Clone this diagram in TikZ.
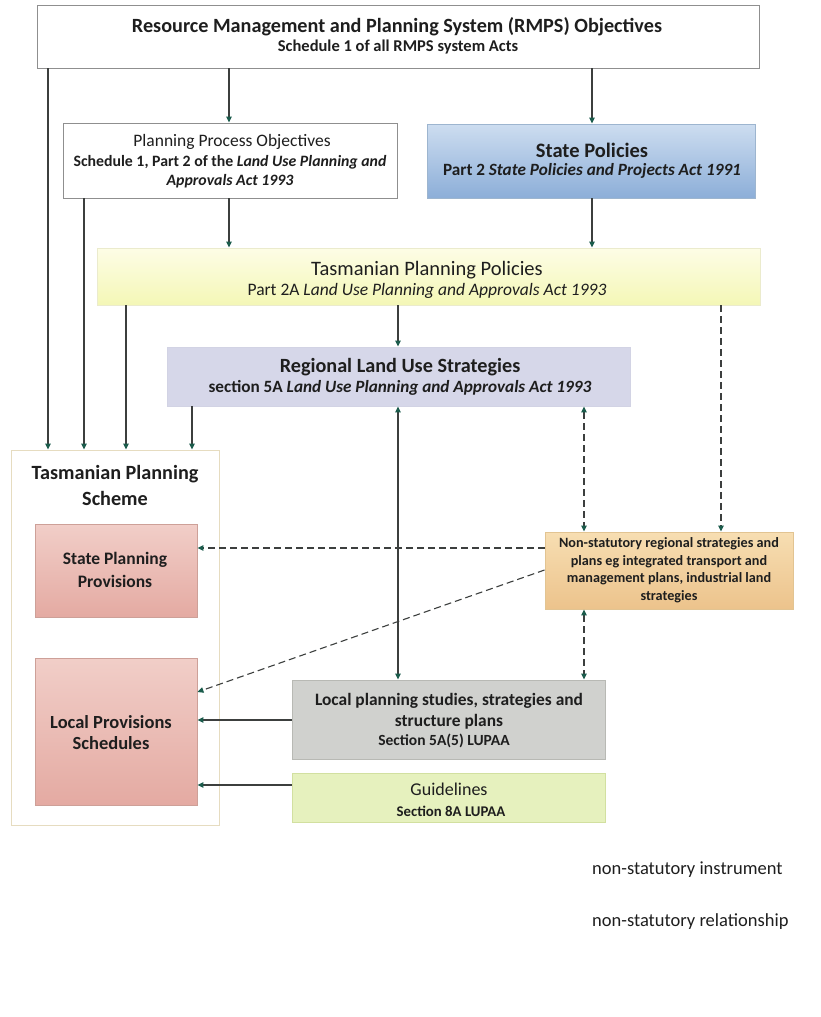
\documentclass[tikz,border=0pt]{standalone}
\usepackage{fontspec}
\setmainfont{Carlito}
\usetikzlibrary{arrows.meta}
\definecolor{linec}{HTML}{3C3F3E}
\definecolor{headc}{HTML}{1B5C4C}
\definecolor{txt}{HTML}{1E1E1E}
\definecolor{bgray}{HTML}{8F8F8F}
\definecolor{spD}{HTML}{9DB5CF}
\definecolor{spT}{HTML}{CDDDF0}
\definecolor{spB}{HTML}{8CAED8}
\definecolor{tppD}{HTML}{EBEBCD}
\definecolor{tppT}{HTML}{FDFDE6}
\definecolor{tppB}{HTML}{F4F7B6}
\definecolor{regD}{HTML}{D2D3E4}
\definecolor{regF}{HTML}{D6D7E9}
\definecolor{tpsD}{HTML}{E6DCC0}
\definecolor{pkD}{HTML}{CDA098}
\definecolor{pkT}{HTML}{F1CEC8}
\definecolor{pkB}{HTML}{E4AAA2}
\definecolor{nsD}{HTML}{E2C492}
\definecolor{nsT}{HTML}{F7DEB2}
\definecolor{nsB}{HTML}{ECC38C}
\definecolor{lpD}{HTML}{B8B9B4}
\definecolor{lpF}{HTML}{D0D1CE}
\definecolor{glD}{HTML}{D2E0A0}
\definecolor{glF}{HTML}{E6F1BE}
\begin{document}
\begin{tikzpicture}[x=1pt,y=-1pt,
  box/.style={draw=#1, line width=0.9pt, inner sep=0pt},
  tx/.style={text=txt, inner sep=0pt, align=center},
  arr/.style={draw=linec, line width=1.1pt, -{Triangle[length=6pt,width=5.5pt,color=headc]}},
  darr/.style={draw=linec, line width=1.1pt, {Triangle[length=6pt,width=5.5pt,color=headc]}-{Triangle[length=6pt,width=5.5pt,color=headc]}},
  dsh/.style={dash pattern=on 7pt off 4pt}
]
\useasboundingbox (0,0) rectangle (821,1017);
\fill[white] (0,0) rectangle (821,1017);

% columns
\coordinate (c48) at (48,0);
\coordinate (c84) at (84,0);
\coordinate (c126) at (126,0);
\coordinate (c192) at (192,0);
\coordinate (c229) at (229,0);
\coordinate (c398) at (398,0);
\coordinate (c584) at (584,0);
\coordinate (c592) at (592,0);
\coordinate (c721) at (721,0);
\coordinate (r548) at (0,548);
\coordinate (r570) at (0,570);
\coordinate (r692) at (0,692);
\coordinate (r720) at (0,720);
\coordinate (r785) at (0,785);

% boxes
\node[box=bgray, fill=white, minimum width=722pt, minimum height=63pt] (top) at (398,36.5) {};
\node[box=bgray, fill=white, minimum width=334pt, minimum height=75pt] (ppo) at (230,160.5) {};
\node[box=spD, top color=spT, bottom color=spB, minimum width=328pt, minimum height=74pt] (sp) at (591.5,161) {};
\node[box=tppD, top color=tppT, bottom color=tppB, minimum width=663pt, minimum height=57pt] (tpp) at (428.5,276.5) {};
\node[box=regD, fill=regF, minimum width=463pt, minimum height=59pt] (reg) at (398.5,376.5) {};
\node[box=tpsD, fill=white, minimum width=208pt, minimum height=375pt] (tps) at (115,637.5) {};
\node[box=pkD, top color=pkT, bottom color=pkB, minimum width=162pt, minimum height=93pt] (spp) at (116,570.5) {};
\node[box=pkD, top color=pkT, bottom color=pkB, minimum width=162pt, minimum height=147pt] (lps) at (116,731.5) {};
\node[box=nsD, top color=nsT, bottom color=nsB, minimum width=248pt, minimum height=77pt] (ns) at (669,570.5) {};
\node[box=lpD, fill=lpF, minimum width=313pt, minimum height=79pt] (lp) at (448.5,719.5) {};
\node[box=glD, fill=glF, minimum width=313pt, minimum height=49pt] (gl) at (448.5,797.5) {};

% texts
\node[tx, font=\fontsize{20.2}{22}\selectfont\bfseries] (topa) at (397,27) {Resource Management and Planning System (RMPS) Objectives};
\node[tx, font=\fontsize{16.5}{18}\selectfont\bfseries] (topb) at (398,47) {Schedule 1 of all RMPS system Acts};
\node[tx, font=\fontsize{17.5}{19}\selectfont] (ppoa) at (232,142) {Planning Process Objectives};
\node[tx, font=\fontsize{15.8}{17}\selectfont\bfseries] (ppob) at (230,162) {Schedule 1, Part 2 of the \textit{Land Use Planning and}};
\node[tx, font=\fontsize{15.8}{17}\selectfont\bfseries\itshape] (ppoc) at (230,181) {Approvals Act 1993};
\node[tx, font=\fontsize{20.5}{22}\selectfont\bfseries] (spa) at (592,150) {State Policies};
\node[tx, font=\fontsize{17.2}{19}\selectfont\bfseries] (spb) at (592,171) {Part 2 \textit{State Policies and Projects Act 1991}};
\node[tx, font=\fontsize{20.5}{22}\selectfont] (tppa) at (427,270) {Tasmanian Planning Policies};
\node[tx, font=\fontsize{17.5}{19}\selectfont] (tppb) at (427,291) {Part 2A \textit{Land Use Planning and Approvals Act 1993}};
\node[tx, font=\fontsize{20.2}{22}\selectfont\bfseries] (rega) at (400,367) {Regional Land Use Strategies};
\node[tx, font=\fontsize{17.2}{19}\selectfont\bfseries] (regb) at (400,388) {section 5A \textit{Land Use Planning and Approvals Act 1993}};
\node[tx, font=\fontsize{20.2}{22}\selectfont\bfseries] (tpsa) at (115,474) {Tasmanian Planning};
\node[tx, font=\fontsize{20.2}{22}\selectfont\bfseries] (tpsb) at (115,498) {Scheme};
\node[tx, font=\fontsize{17.5}{19}\selectfont\bfseries] (sppa) at (115,560) {State Planning};
\node[tx, font=\fontsize{17.5}{19}\selectfont\bfseries] (sppb) at (115,581) {Provisions};
\node[tx, font=\fontsize{18.5}{20}\selectfont\bfseries] (lpsa) at (111,722) {Local Provisions};
\node[tx, font=\fontsize{18.5}{20}\selectfont\bfseries] (lpsb) at (111,743) {Schedules};
\node[tx, font=\fontsize{14.2}{16}\selectfont\bfseries] (nsa) at (669,544) {Non-statutory regional strategies and};
\node[tx, font=\fontsize{14.2}{16}\selectfont\bfseries] (nsb) at (669,562) {plans eg integrated transport and};
\node[tx, font=\fontsize{14.2}{16}\selectfont\bfseries] (nsc) at (669,579) {management plans, industrial land};
\node[tx, font=\fontsize{14.2}{16}\selectfont\bfseries] (nsd) at (669,597) {strategies};
\node[tx, font=\fontsize{17.4}{19}\selectfont\bfseries] (lpa) at (449,701) {Local planning studies, strategies and};
\node[tx, font=\fontsize{17.4}{19}\selectfont\bfseries] (lpb) at (449,722) {structure plans};
\node[tx, font=\fontsize{15.5}{17}\selectfont\bfseries] (lpc) at (444,741) {Section 5A(5) LUPAA};
\node[tx, font=\fontsize{18}{20}\selectfont] (gla) at (449,789) {Guidelines};
\node[tx, font=\fontsize{14.8}{16}\selectfont\bfseries] (glb) at (451,811) {Section 8A LUPAA};
\node[tx, anchor=west, font=\fontsize{18.5}{20}\selectfont] (lega) at (592,870) {non-statutory instrument};
\node[tx, anchor=west, font=\fontsize{18.5}{20}\selectfont] (legb) at (592,922) {non-statutory relationship};

% connectors
\draw[arr] (top.south -| c48) -- (tps.north -| c48);
\draw[arr] (top.south -| c229) -- (ppo.north -| c229);
\draw[arr] (top.south -| c592) -- (sp.north -| c592);
\draw[arr] (ppo.south -| c84) -- (tps.north -| c84);
\draw[arr] (ppo.south -| c229) -- (tpp.north -| c229);
\draw[arr] (sp.south -| c592) -- (tpp.north -| c592);
\draw[arr] (tpp.south -| c126) -- (tps.north -| c126);
\draw[arr] (tpp.south -| c398) -- (reg.north -| c398);
\draw[arr, dsh] (tpp.south -| c721) -- (ns.north -| c721);
\draw[arr] (reg.south -| c192) -- (tps.north -| c192);
\draw[darr] (reg.south -| c398) -- (lp.north -| c398);
\draw[darr, dsh] (reg.south -| c584) -- (ns.north -| c584);
\draw[darr, dsh] (ns.south -| c584) -- (lp.north -| c584);
\draw[arr, dsh] (ns.west |- r548) -- (spp.east |- r548);
\draw[arr, dsh] (ns.west |- r570) -- (lps.east |- r692);
\draw[arr] (lp.west |- r720) -- (lps.east |- r720);
\draw[arr] (gl.west |- r785) -- (lps.east |- r785);
\end{tikzpicture}
\end{document}
